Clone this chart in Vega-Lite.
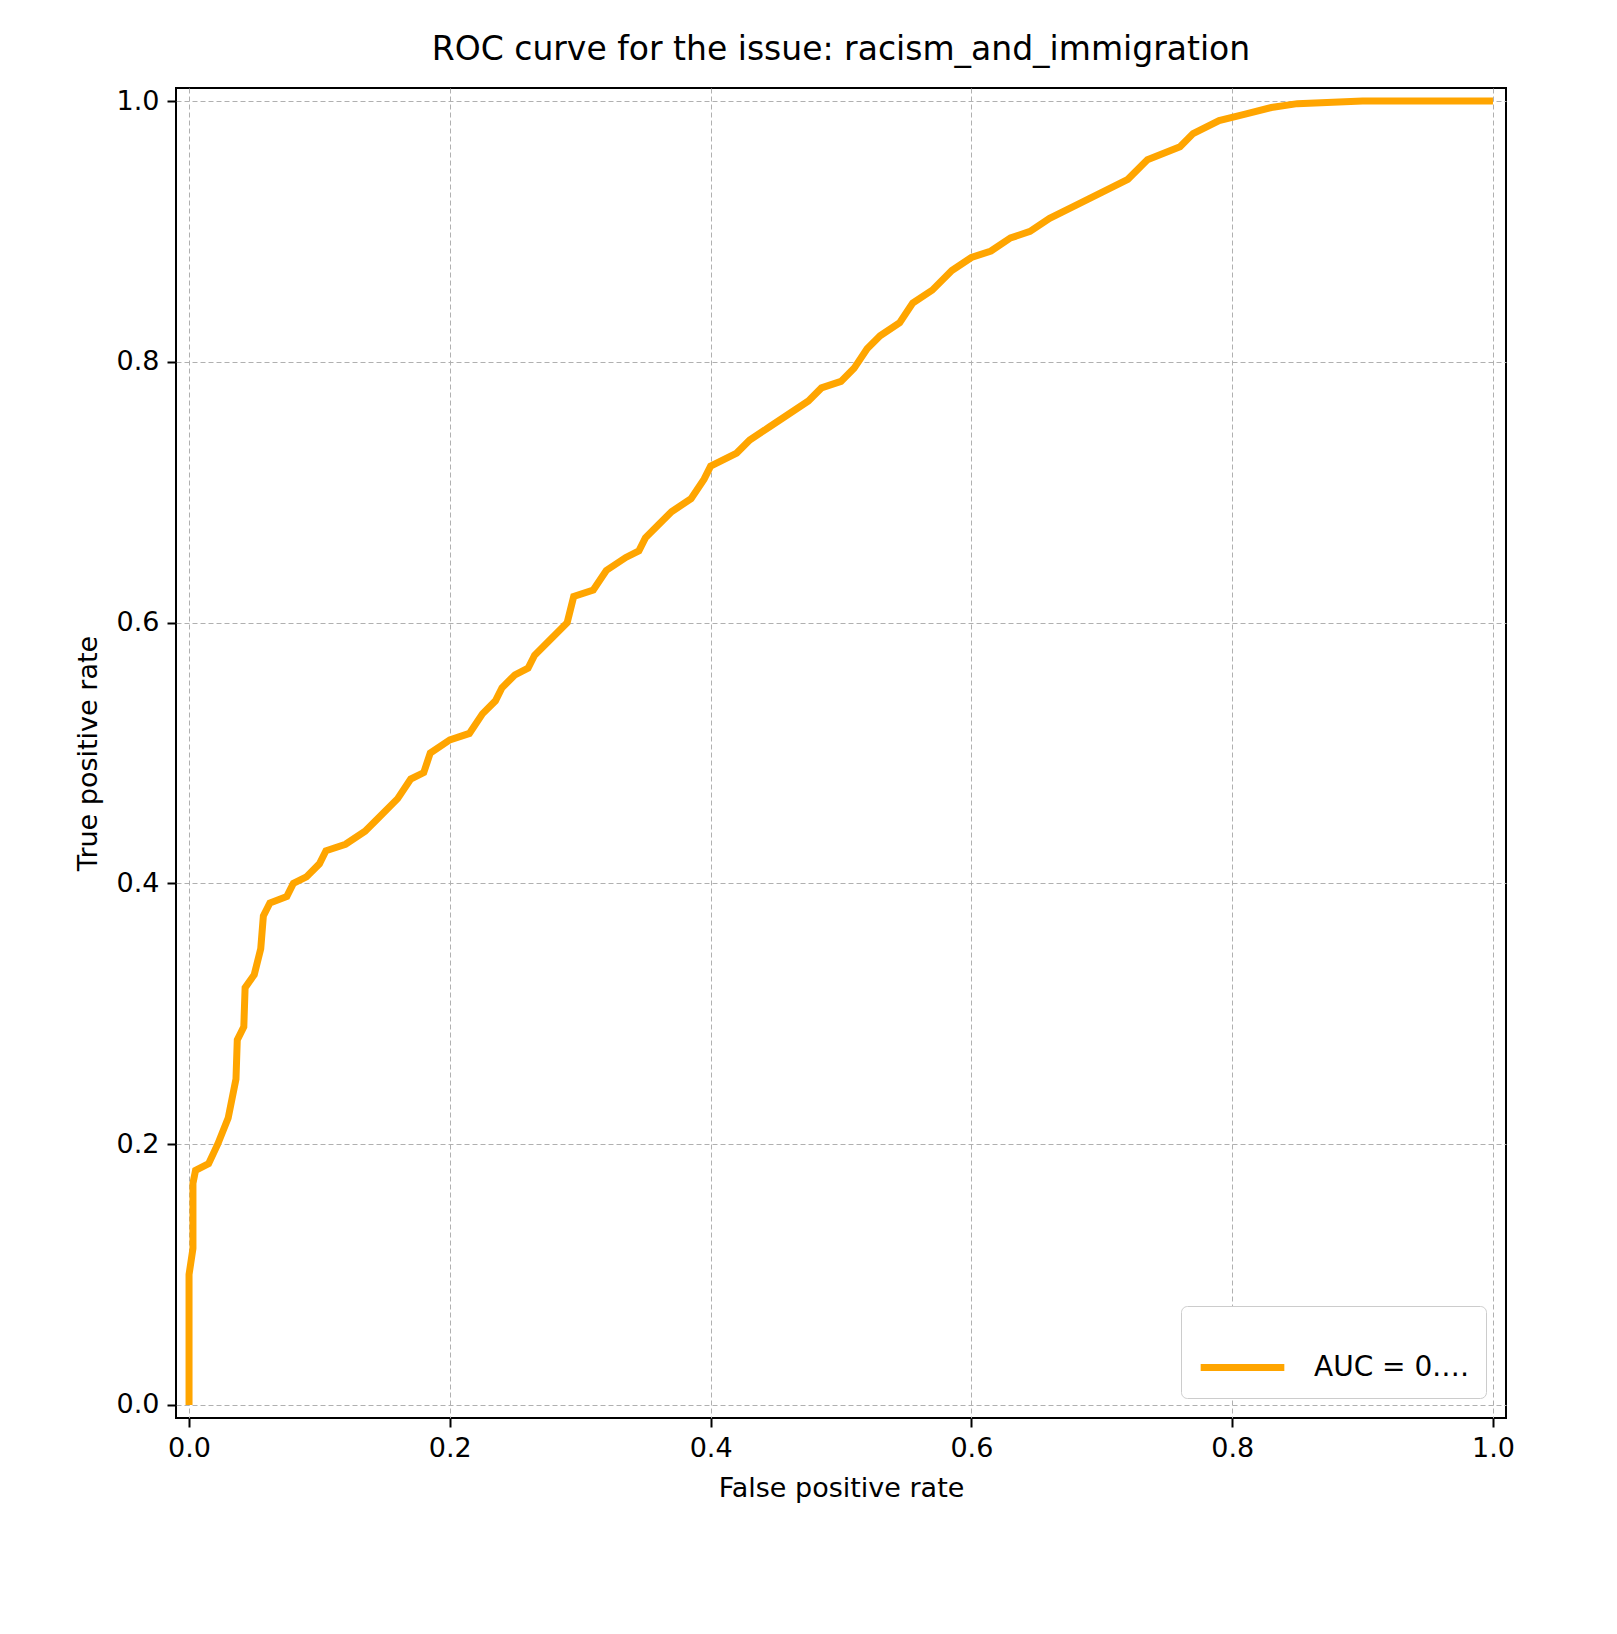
{
  "$schema": "https://vega.github.io/schema/vega-lite/v6.json",
  "autosize": "none",
  "padding": {"left": 176, "top": 88, "right": 111, "bottom": 216},
  "width": 1330,
  "height": 1330,
  "background": "white",
  "title": {"text": "ROC curve for the issue: racism_and_immigration", "fontSize": 33, "fontWeight": "normal", "font": "DejaVu Sans", "offset": 20, "color": "black"},
  "data": {"values": [
    {"fpr": 0, "tpr": 0}, {"fpr": 0, "tpr": 0.10}, {"fpr": 0.003, "tpr": 0.12}, {"fpr": 0.003, "tpr": 0.17},
    {"fpr": 0.005, "tpr": 0.18}, {"fpr": 0.015, "tpr": 0.185}, {"fpr": 0.022, "tpr": 0.2}, {"fpr": 0.03, "tpr": 0.22},
    {"fpr": 0.036, "tpr": 0.25}, {"fpr": 0.037, "tpr": 0.28}, {"fpr": 0.042, "tpr": 0.29}, {"fpr": 0.043, "tpr": 0.32},
    {"fpr": 0.05, "tpr": 0.33}, {"fpr": 0.055, "tpr": 0.35}, {"fpr": 0.057, "tpr": 0.375}, {"fpr": 0.062, "tpr": 0.385},
    {"fpr": 0.075, "tpr": 0.39}, {"fpr": 0.08, "tpr": 0.4}, {"fpr": 0.09, "tpr": 0.405}, {"fpr": 0.1, "tpr": 0.415},
    {"fpr": 0.105, "tpr": 0.425}, {"fpr": 0.12, "tpr": 0.43}, {"fpr": 0.135, "tpr": 0.44}, {"fpr": 0.145, "tpr": 0.45},
    {"fpr": 0.16, "tpr": 0.465}, {"fpr": 0.17, "tpr": 0.48}, {"fpr": 0.18, "tpr": 0.485}, {"fpr": 0.185, "tpr": 0.5},
    {"fpr": 0.2, "tpr": 0.51}, {"fpr": 0.215, "tpr": 0.515}, {"fpr": 0.225, "tpr": 0.53}, {"fpr": 0.235, "tpr": 0.54},
    {"fpr": 0.24, "tpr": 0.55}, {"fpr": 0.25, "tpr": 0.56}, {"fpr": 0.26, "tpr": 0.565}, {"fpr": 0.265, "tpr": 0.575},
    {"fpr": 0.275, "tpr": 0.585}, {"fpr": 0.29, "tpr": 0.6}, {"fpr": 0.295, "tpr": 0.62}, {"fpr": 0.31, "tpr": 0.625},
    {"fpr": 0.32, "tpr": 0.64}, {"fpr": 0.335, "tpr": 0.65}, {"fpr": 0.345, "tpr": 0.655}, {"fpr": 0.35, "tpr": 0.665},
    {"fpr": 0.36, "tpr": 0.675}, {"fpr": 0.37, "tpr": 0.685}, {"fpr": 0.385, "tpr": 0.695}, {"fpr": 0.395, "tpr": 0.71},
    {"fpr": 0.4, "tpr": 0.72}, {"fpr": 0.42, "tpr": 0.73}, {"fpr": 0.43, "tpr": 0.74}, {"fpr": 0.445, "tpr": 0.75},
    {"fpr": 0.46, "tpr": 0.76}, {"fpr": 0.475, "tpr": 0.77}, {"fpr": 0.485, "tpr": 0.78}, {"fpr": 0.5, "tpr": 0.785},
    {"fpr": 0.51, "tpr": 0.795}, {"fpr": 0.52, "tpr": 0.81}, {"fpr": 0.53, "tpr": 0.82}, {"fpr": 0.545, "tpr": 0.83},
    {"fpr": 0.555, "tpr": 0.845}, {"fpr": 0.57, "tpr": 0.855}, {"fpr": 0.585, "tpr": 0.87}, {"fpr": 0.6, "tpr": 0.88},
    {"fpr": 0.615, "tpr": 0.885}, {"fpr": 0.63, "tpr": 0.895}, {"fpr": 0.645, "tpr": 0.9}, {"fpr": 0.66, "tpr": 0.91},
    {"fpr": 0.68, "tpr": 0.92}, {"fpr": 0.7, "tpr": 0.93}, {"fpr": 0.72, "tpr": 0.94}, {"fpr": 0.735, "tpr": 0.955},
    {"fpr": 0.76, "tpr": 0.965}, {"fpr": 0.77, "tpr": 0.975}, {"fpr": 0.79, "tpr": 0.985}, {"fpr": 0.81, "tpr": 0.99},
    {"fpr": 0.83, "tpr": 0.995}, {"fpr": 0.85, "tpr": 0.998}, {"fpr": 0.9, "tpr": 1.0}, {"fpr": 1.0, "tpr": 1.0}
  ]},
  "transform": [{"calculate": "'AUC = 0.74'", "as": "label"}],
  "mark": {"type": "line", "strokeWidth": 7},
  "encoding": {
    "x": {"field": "fpr", "type": "quantitative", "title": "False positive rate",
      "scale": {"domain": [-0.01, 1.01], "nice": false, "zero": false},
      "axis": {"values": [0, 0.2, 0.4, 0.6, 0.8, 1.0], "format": ".1f"}},
    "y": {"field": "tpr", "type": "quantitative", "title": "True positive rate",
      "scale": {"domain": [-0.01, 1.01], "nice": false, "zero": false},
      "axis": {"values": [0, 0.2, 0.4, 0.6, 0.8, 1.0], "format": ".1f"}},
    "color": {"field": "label", "type": "nominal", "title": null,
      "scale": {"range": ["#ffa500"]},
      "legend": {"orient": "bottom-right", "symbolType": "stroke", "symbolStrokeWidth": 7, "symbolSize": 7000,
        "labelFontSize": 28, "labelFont": "DejaVu Sans", "labelColor": "black", "strokeColor": "#cccccc", "fillColor": "white",
        "padding": 16, "cornerRadius": 6, "offset": 20, "labelOffset": 26}}
  },
  "config": {
    "view": {"stroke": "black", "strokeWidth": 2},
    "axis": {
      "labelFont": "DejaVu Sans", "titleFont": "DejaVu Sans", "labelFontSize": 27, "titleFontSize": 27,
      "titleFontWeight": "normal", "labelColor": "black", "titleColor": "black",
      "domain": false, "tickColor": "black", "tickSize": 9, "tickWidth": 2,
      "grid": true, "gridColor": "#b0b0b0", "gridDash": [5, 3], "gridWidth": 1,
      "labelPadding": 8, "titlePadding": 14
    }
  }
}
